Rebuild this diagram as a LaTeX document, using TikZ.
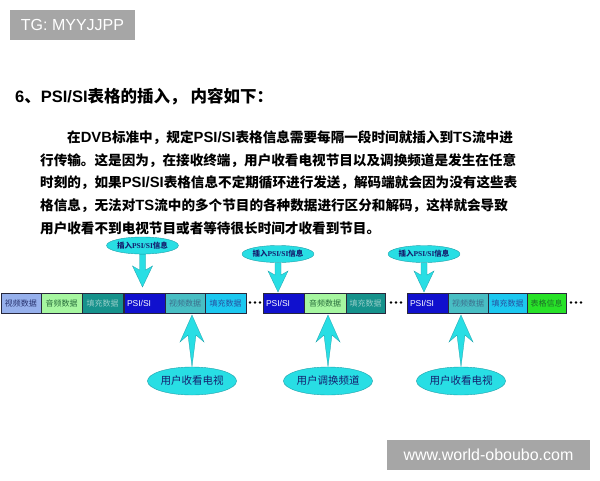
\documentclass[tikz,border=0pt]{standalone}
\usepackage{fontspec}
\setmainfont{Liberation Sans}
\newfontfamily\cjk{Noto Sans CJK SC}
\newfontfamily\serifl{Liberation Serif}
\usetikzlibrary{shapes.geometric,calc,backgrounds}
\newcommand\latp[1]{{\rmfamily\fontsize{14.8}{16}\selectfont #1}}
\newcommand\downarr[2]{\filldraw[arrowfill] ($(#1)+(-3,0)$) -- ($(#2)+(-3,-17)$) -- ($(#2)+(-10,-21)$) -- (#2) -- ($(#2)+(10,-21)$) -- ($(#2)+(3,-17)$) -- ($(#1)+(3,0)$) -- cycle;}
\newcommand\uparr[2]{\filldraw[arrowfill] (#1) -- ($(#1)+(12,27)$) -- ($(#1)+(4,20)$) -- (#2) -- ($(#1)+(-4,20)$) -- ($(#1)+(-12,27)$) -- cycle;}
\definecolor{grayb}{RGB}{166,166,166}
\definecolor{lav}{RGB}{150,176,236}
\definecolor{lgreen}{RGB}{166,246,160}
\definecolor{teal1}{RGB}{22,146,140}
\definecolor{psiblue}{RGB}{16,16,206}
\definecolor{teal2}{RGB}{72,190,196}
\definecolor{sky}{RGB}{28,200,240}
\definecolor{green1}{RGB}{40,226,40}
\definecolor{cyanf}{RGB}{40,222,228}
\definecolor{cyand}{RGB}{30,160,170}
\definecolor{navy}{RGB}{20,30,110}
\begin{document}
\begin{tikzpicture}[x=1pt,y=-1pt,
  graybox/.style={fill=grayb,text=white,inner sep=0,outer sep=0,font=\fontsize{16}{18}\selectfont},
  para/.style={anchor=west,inner sep=0,font=\fontsize{13.6}{16}\selectfont\bfseries\cjk},
  seg/.style={draw={rgb,255:red,40;green,40;blue,60},line width=0.7pt,minimum height=20pt,inner sep=0,outer sep=0,font=\fontsize{8}{9}\selectfont\cjk},
  psi/.style={seg,fill=psiblue,text=white,text width=35pt,inner xsep=3pt,align=left,font=\fontsize{8.5}{9}\selectfont\rmfamily},
  topell/.style={ellipse,fill=cyanf,draw=cyand,line width=0.4pt,minimum width=61pt,minimum height=17pt,inner sep=0,text=navy,font=\fontsize{7.5}{8}\selectfont\bfseries},
  botell/.style={ellipse,fill=cyanf,draw=cyand,line width=0.4pt,minimum width=78pt,minimum height=28pt,inner sep=0,text=navy,font=\fontsize{10.5}{11}\selectfont\cjk},
  arrowfill/.style={fill=cyanf,draw=cyand,line width=0.3pt},
  dotf/.style={fill=black}]
\useasboundingbox (0,0) rectangle (600,480);
% gray labels
\node[graybox,minimum width=125pt,minimum height=30pt,anchor=north west] (tg) at (10,10) {TG: MYYJJPP};
\node[graybox,minimum width=203pt,minimum height=30pt,anchor=north west] (wm) at (387,440) {www.world-oboubo.com};
% title
\node[anchor=west,inner sep=0,font=\fontsize{16.5}{18}\selectfont\bfseries] (title) at (15,97) {6{\cjk 、}PSI/SI{\cjk 表格的插入，\hspace{4pt}内容如下：}};
% paragraph
\node[para] (l1) at (67,138) {在\latp{DVB}标准中，规定\latp{PSI/SI}表格信息需要每隔一段时间就插入到\latp{TS}流中进};
\node[para] (l2) at (40,161) {行传输。这是因为，在接收终端，用户收看电视节目以及调换频道是发生在任意};
\node[para] (l3) at (40,183) {时刻的，如果\latp{PSI/SI}表格信息不定期循环进行发送，解码端就会因为没有这些表};
\node[para] (l4) at (40,206) {格信息，无法对\latp{TS}流中的多个节目的各种数据进行区分和解码，这样就会导致};
\node[para] (l5) at (40,228) {用户收看不到电视节目或者等待很长时间才收看到节目。};
% stream segments
\node[seg,fill=lav,minimum width=40pt,text={rgb,255:red,40;green,50;blue,110}] (b1) at (21,303) {视频数据};
\node[seg,fill=lgreen,minimum width=41pt,text={rgb,255:red,40;green,110;blue,60}] (b2) at (61.5,303) {音频数据};
\node[seg,fill=teal1,minimum width=41pt,text={rgb,255:red,150;green,205;blue,200}] (b3) at (102.5,303) {填充数据};
\node[psi] (b4) at (144.5,303) {PSI/SI};
\node[seg,fill=teal2,minimum width=40pt,text={rgb,255:red,60;green,110;blue,140}] (b5) at (185,303) {视频数据};
\node[seg,fill=sky,minimum width=41pt,text={rgb,255:red,40;green,80;blue,160}] (b6) at (225.5,303) {填充数据};
\node[psi] (b7) at (283.5,303) {PSI/SI};
\node[seg,fill=lgreen,minimum width=42pt,text={rgb,255:red,40;green,110;blue,60}] (b8) at (325,303) {音频数据};
\node[seg,fill=teal1,minimum width=39pt,text={rgb,255:red,150;green,205;blue,200}] (b9) at (365.5,303) {填充数据};
\node[psi] (b10) at (427.5,303) {PSI/SI};
\node[seg,fill=teal2,minimum width=40pt,text={rgb,255:red,60;green,110;blue,140}] (b11) at (468,303) {视频数据};
\node[seg,fill=sky,minimum width=39pt,text={rgb,255:red,40;green,80;blue,160}] (b12) at (507.5,303) {填充数据};
\node[seg,fill=green1,minimum width=39pt,text={rgb,255:red,30;green,110;blue,40}] (b13) at (546.5,303) {表格信息};
% dots
\foreach \x in {250,255,260,391,396,401,571,576,581} \fill[dotf] (\x,302.5) circle (1.4pt);
% top ellipses
\node[topell] (e1) at (142.5,245.5) {{\cjk 插入}{\serifl PSI/SI}{\cjk 信息}};
\node[topell] (e2) at (278,254) {{\cjk 插入}{\serifl PSI/SI}{\cjk 信息}};
\node[topell] (e3) at (424,254) {{\cjk 插入}{\serifl PSI/SI}{\cjk 信息}};
% bottom ellipses
\node[botell] (u1) at (192,381) {用户收看电视};
\node[botell] (u2) at (328,381) {用户调换频道};
\node[botell] (u3) at (461,381) {用户收看电视};
% arrows
\coordinate (p1) at ($(e1.south |- b4.north)+(0,-6)$);
\coordinate (p2) at ($(e2.south |- b7.north)+(0,-1)$);
\coordinate (p3) at ($(e3.south |- b10.north)+(0,-1)$);
\coordinate (q1) at ($(u1.north |- b5.south)+(0,2)$);
\coordinate (q2) at ($(u2.north |- b8.south)+(0,2)$);
\coordinate (q3) at ($(u3.north |- b11.south)+(0,2)$);
\begin{scope}[on background layer]
\downarr{e1.south}{p1}
\downarr{e2.south}{p2}
\downarr{e3.south}{p3}
\uparr{q1}{u1.north}
\uparr{q2}{u2.north}
\uparr{q3}{u3.north}
\end{scope}
\end{tikzpicture}
\end{document}
